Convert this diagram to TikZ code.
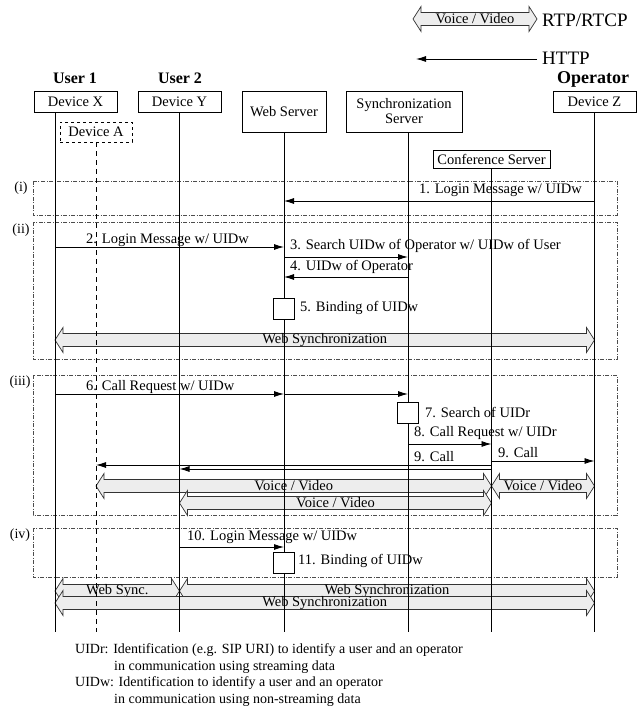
\documentclass[tikz,border=0pt]{standalone}
\usepackage{fontspec}
\setmainfont{Liberation Serif}
\usetikzlibrary{arrows.meta,calc}

\definecolor{fatgray}{gray}{0.93}
\definecolor{framegray}{gray}{0.3}

\tikzset{
  device/.style={draw,line width=0.7pt,inner sep=1pt,minimum height=21pt,font=\fontsize{14.5}{16}\selectfont},
  head/.style={inner sep=0pt,font=\fontsize{16}{18}\selectfont\bfseries},
  big/.style={inner sep=0pt,font=\fontsize{19}{21}\selectfont},
  life/.style={line width=0.7pt},
  msg/.style={line width=0.9pt,-{Latex[length=10pt,width=6pt]}},
  act/.style={draw,fill=white,line width=0.7pt,minimum size=21pt,inner sep=0pt},
  lbl/.style={anchor=west,inner sep=0pt,font=\fontsize{14.5}{16}\selectfont},
  sec/.style={inner sep=0pt,font=\fontsize{14}{16}\selectfont},
  frame/.style={draw=framegray,line width=0.6pt,dash pattern=on 4pt off 1.5pt on 1pt off 1.5pt},
  fatline/.style={draw=black!80,fill=fatgray,line width=0.7pt},
  fattext/.style={inner sep=0pt,font=\fontsize{14.5}{16}\selectfont},
  foot/.style={anchor=west,inner sep=0pt,font=\fontsize{14}{16}\selectfont}
}

% double fat arrow between two x positions at height #3
\newcommand{\fatarrow}[4]{%
  \path (#1 |- 0,#3) coordinate (fa-l) (#2 |- 0,#3) coordinate (fa-r);
  \draw[fatline] (fa-l) -- ($(fa-l)+(8,-12.5)$) -- ($(fa-l)+(8,-6.5)$)
    -- ($(fa-r)+(-8,-6.5)$) -- ($(fa-r)+(-8,-12.5)$) -- (fa-r)
    -- ($(fa-r)+(-8,12.5)$) -- ($(fa-r)+(-8,6.5)$)
    -- ($(fa-l)+(8,6.5)$) -- ($(fa-l)+(8,12.5)$) -- cycle;
  \node[fattext] at ($(fa-l)!0.5!(fa-r)$) {#4};
}

\begin{document}
\begin{tikzpicture}[x=1pt,y=-1pt]
    \useasboundingbox (0,0) rectangle (637,711);

    % legend
    \coordinate (lg1) at (413,19);
    \coordinate (lg2) at (537,19);
    \node[big,anchor=west] (rtp) at (542,20) {RTP/RTCP};
    \node[big,anchor=west] (http) at (542,58) {HTTP};
    \coordinate (httpstart) at (537,59);
    \coordinate (httpend) at (416,59);

    % users and servers
    \node[head] (u1) at (75,78) {User 1};
    \node[head] (u2) at (180,78) {User 2};
    \node[head,font=\fontsize{18}{20}\selectfont\bfseries] (op) at (593,79) {Operator};
    \node[device,minimum width=83pt] (dx) at (75.5,101.5) {Device X};
    \node[device,minimum width=83pt] (dy) at (179.5,101.5) {Device Y};
    \node[device,minimum width=84pt,minimum height=41pt] (ws) at (284,111.5) {Web Server};
    \node[device,minimum width=116pt,minimum height=41pt,align=center] (ss) at (404,111.5) {Synchronization\\[-1pt]Server};
    \node[device,minimum width=83pt] (dz) at (594.5,101.5) {Device Z};
    \node[device,minimum width=72pt,minimum height=20pt,dashed] (da) at (96,132) {Device A};
    \node[device,minimum width=117pt,minimum height=18pt] (cs) at (491.5,159.5) {Conference Server};
    \coordinate (lx) at (dx.south -| 55,0);
    \coordinate (ls) at (ss.south -| 408,0);

    % phases
    \draw[frame] (33,181) rectangle (617,215);
    \draw[frame] (33,222) rectangle (617,359);
    \draw[frame] (33,375) rectangle (617,515);
    \draw[frame] (33,528) rectangle (617,577);
    \node[sec] (p1) at (21,188) {(i)};
    \node[sec] (p2) at (21,230) {(ii)};
    \node[sec] (p3) at (20,382) {(iii)};
    \node[sec] (p4) at (20,535) {(iv)};

    % streams and synchronization
    \fatarrow{lg1}{lg2}{19}{Voice / Video}
    \fatarrow{lx}{dz}{340}{Web Synchronization}
    \fatarrow{da}{cs}{486}{Voice / Video}
    \fatarrow{cs}{dz}{486}{Voice / Video}
    \fatarrow{dy}{cs}{503}{Voice / Video}
    \fatarrow{lx}{dy}{591}{Web Sync.}
    \fatarrow{dy}{dz}{591}{Web Synchronization}
    \fatarrow{lx}{dz}{603}{Web Synchronization}

    % lifelines
    \draw[life] (lx) -- (lx |- 0,632);
    \draw[life,dash pattern=on 5pt off 4pt] (da) -- (da |- 0,632);
    \draw[life] (dy) -- (dy |- 0,632);
    \draw[life] (ws) -- (ws |- 0,632);
    \draw[life] (ls) -- (ls |- 0,632);
    \draw[life] (cs) -- (cs |- 0,632);
    \draw[life] (dz) -- (dz |- 0,632);

    % http messages
    \draw[msg] (httpstart) -- (httpend);
    \draw[msg] (dz |- 0,201) -- (ws |- 0,201);
    \draw[msg] (lx |- 0,247) -- (ws |- 0,247);
    \draw[msg] (ws |- 0,257) -- (ls |- 0,257);
    \draw[msg] (ls |- 0,277) -- (ws |- 0,277);
    \draw[msg] (lx |- 0,394) -- (ws |- 0,394);
    \draw[msg] (ws |- 0,394) -- (ls |- 0,394);
    \draw[msg] (ls |- 0,444) -- (cs |- 0,444);
    \draw[msg] (cs |- 0,461) -- (dz |- 0,461);
    \draw[msg] (cs |- 0,465) -- (da |- 0,465);
    \draw[msg] (cs |- 0,469) -- (dy |- 0,469);
    \draw[msg] (dy |- 0,547) -- (ws |- 0,547);

    % processing
    \node[act] (b5) at (ws |- 0,308.5) {};
    \node[act] (b7) at (ls |- 0,413) {};
    \node[act] (b11) at (ws |- 0,563) {};

    % labels
    \node[lbl,anchor=east] (m1) at (582,190) {1. Login Message w/ UIDw};
    \node[lbl] (m2) at (86,240) {2. Login Message w/ UIDw};
    \node[lbl] (m3) at (290,246) {3. Search UIDw of Operator w/ UIDw of User};
    \node[lbl] (m4) at (290,267) {4. UIDw of Operator};
    \node[lbl] (m5) at (300,308) {5. Binding of UIDw};
    \node[lbl] (m6) at (86,387) {6. Call Request w/ UIDw};
    \node[lbl] (m7) at (425,412) {7. Search of UIDr};
    \node[lbl] (m8) at (414,433) {8. Call Request w/ UIDr};
    \node[lbl] (m9a) at (414,457) {9. Call};
    \node[lbl] (m9b) at (498,453) {9. Call};
    \node[lbl] (m10) at (187,537) {10. Login Message w/ UIDw};
    \node[lbl] (m11) at (298,561) {11. Binding of UIDw};

    % notes
    \node[foot] (f1) at (75,650) {UIDr: Identification (e.g. SIP URI) to identify a user and an operator};
    \node[foot] (f2) at (114,667) {in communication using streaming data};
    \node[foot] (f3) at (75,683) {UIDw: Identification to identify a user and an operator};
    \node[foot] (f4) at (114,700) {in communication using non-streaming data};
\end{tikzpicture}
\end{document}
